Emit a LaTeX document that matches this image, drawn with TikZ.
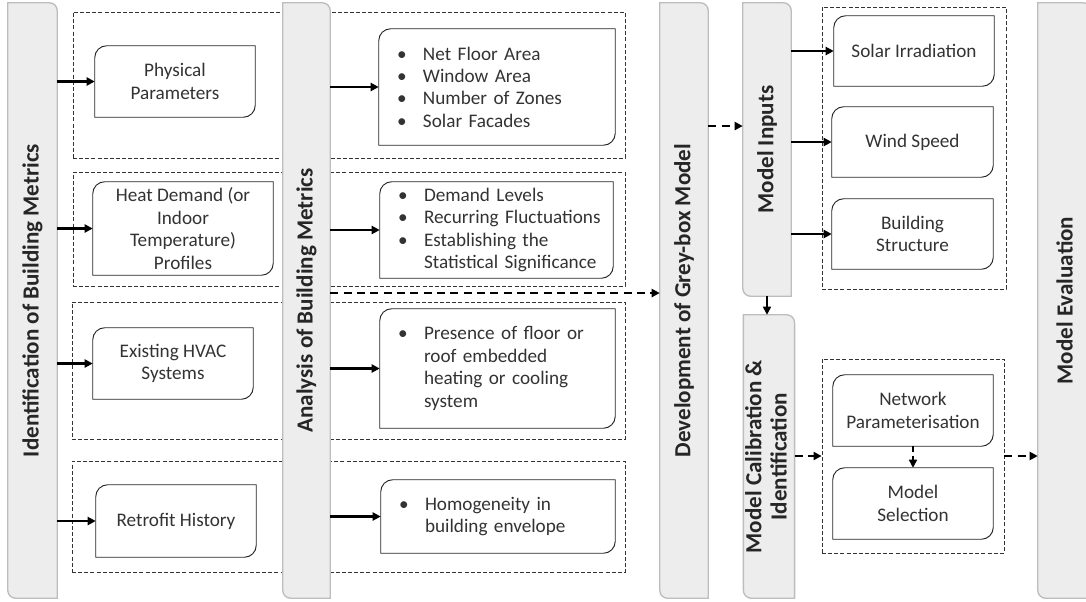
\documentclass[tikz,border=0pt]{standalone}
\usepackage{fontspec}
\setmainfont{Carlito}
\usetikzlibrary{arrows.meta, positioning, backgrounds}
\definecolor{barfill}{HTML}{EDEDED}
\definecolor{barrim}{HTML}{BDBDBD}
\definecolor{inkgray}{HTML}{333333}
\newcommand{\boxfont}{\fontsize{14.4}{16.8}\selectfont}
\newcommand{\barfont}{\fontsize{17.3}{19}\selectfont\bfseries}
\newcommand{\bul}[1]{\mbox{\makebox[19.5pt][l]{\textbullet}#1}}
\newcommand{\cont}[1]{\mbox{\hspace*{19.5pt}#1}}
\newcommand{\barshape}[1]{\draw[fill=barfill, draw=barrim, line width=1pt] (#1.north) [rounded corners=6pt] -- (#1.north east) -- (#1.east) [sharp corners] -- (#1.south east) -- (#1.south) [rounded corners=6pt] -- (#1.south west) -- (#1.west) [sharp corners] -- (#1.north west) -- cycle;}
\newcommand{\boxshape}[1]{\draw[black!85, line width=0.7pt] (#1.west) [rounded corners=9pt] -- (#1.north west) -- (#1.north) [sharp corners] -- (#1.north east) -- (#1.east) [rounded corners=9pt] -- (#1.south east) -- (#1.south) [sharp corners] -- (#1.south west) -- cycle;}
\tikzset{
    stage/.style={inner sep=0pt, font=\barfont, text=black!85},
    group/.style={draw=black!80, dash pattern=on 3pt off 1.6pt, line width=0.6pt, inner sep=0pt},
    leaf/.style={inner sep=0pt, align=center, font=\boxfont, text=inkgray},
    list/.style={inner xsep=13.5pt, inner ysep=0pt, align=left, font=\boxfont, text=inkgray},
    link/.style={-{Triangle[length=6pt,width=6pt]}, line width=1.7pt},
    dlink/.style={-{Triangle[length=6pt,width=6pt]}, line width=1.5pt, dash pattern=on 6pt off 4pt}
}

\begin{document}
\begin{tikzpicture}[x=0.75pt, y=-0.75pt]
    \useasboundingbox (0,0) rectangle (1086,601);
    % Stages
    \node[stage, minimum width=36.75pt, minimum height=446.25pt] (ident) at (32.5,300.5) {\rotatebox{90}{Identification of Building Metrics}};
    \node[stage, minimum width=35.25pt, minimum height=446.25pt] (analysis) at (306.5,300.5) {\rotatebox{90}{Analysis of Building Metrics}};
    \node[stage, minimum width=36pt, minimum height=446.25pt] (develop) at (684,300.5) {\rotatebox{90}{Development of Grey-box Model}};
    \node[stage, minimum width=36pt, minimum height=219.75pt] (inputs) at (767,149.5) {\rotatebox{90}{Model Inputs}};
    \node[stage, minimum width=36pt, minimum height=212.25pt] (calib) at (769,456.5) {\rotatebox{90}{\begin{tabular}{@{}c@{}}Model Calibration \&\\ Identification\end{tabular}}};
    \node[stage, minimum width=39.75pt, minimum height=446.25pt] (eval) at (1064.5,300.5) {\rotatebox{90}{Model Evaluation}};
    % Dashed groups and bar shapes
    \begin{scope}[on background layer]
        \node[group, minimum width=414pt, minimum height=109.5pt] (g1) at (349,85) {};
        \node[group, minimum width=414pt, minimum height=85.5pt] (g2) at (349,229) {};
        \node[group, minimum width=414.75pt, minimum height=102.75pt] (g3) at (348.5,370.5) {};
        \node[group, minimum width=414.75pt, minimum height=83.25pt] (g4) at (348.5,516.5) {};
        \node[group, minimum width=138pt, minimum height=211.5pt] (g5) at (914,148) {};
        \node[group, minimum width=136.5pt, minimum height=145.5pt] (g6) at (913,456) {};
        \foreach \s in {ident, analysis, develop, inputs, calib, eval}
            {\barshape{\s}}
    \end{scope}
    % Building metrics
    \node[leaf, minimum width=120pt, minimum height=53.25pt] (phys) at (175,81.5) {Physical\\Parameters};
    \node[leaf, minimum width=135pt, minimum height=69.75pt] (heat) at (183,228.5) {Heat Demand (or\\Indoor\\Temperature)\\Profiles};
    \node[leaf, minimum width=120pt, minimum height=53.25pt] (hvac) at (173,363.5) {Existing HVAC\\Systems};
    \node[leaf, minimum width=120pt, minimum height=54pt] (retro) at (176,521) {Retrofit History};
    % Analysis outcomes
    \node[list, text width=150pt, minimum width=177pt, minimum height=87pt] (geom) at (497,87) {\bul{Net Floor Area}\\\bul{Window Area}\\\bul{Number of Zones}\\\bul{Solar Facades}};
    \node[list, text width=147.75pt, minimum width=174.75pt, minimum height=72pt] (demand) at (496.5,230) {\bul{Demand Levels}\\\bul{Recurring Fluctuations}\\\bul{Establishing the}\\\cont{Statistical Significance}};
    \node[list, text width=149.25pt, minimum width=176.25pt, minimum height=89.25pt] (embed) at (497.5,368.5) {\bul{Presence of floor or}\\\cont{roof embedded}\\\cont{heating or cooling}\\\cont{system}};
    \node[list, text width=148.5pt, minimum width=175.5pt, minimum height=54.75pt] (homog) at (498,516.5) {\bul{Homogeneity in}\\\cont{building envelope}};
    % Inputs and calibration
    \node[leaf, minimum width=120pt, minimum height=52.5pt] (solar) at (914,51) {Solar Irradiation};
    \node[leaf, minimum width=120.75pt, minimum height=52.5pt] (wind) at (912.5,142) {Wind Speed};
    \node[leaf, minimum width=120.75pt, minimum height=52.5pt] (struct) at (912.5,234) {Building\\Structure};
    \node[leaf, minimum width=120pt, minimum height=53.25pt] (netw) at (913,410.5) {Network\\Parameterisation};
    \node[leaf, minimum width=120pt, minimum height=53.25pt] (select) at (913,503.5) {Model\\Selection};
    \foreach \b in {phys, heat, hvac, retro, geom, demand, embed, homog, solar, wind, struct, netw, select}
        {\boxshape{\b}}
    % Solid links
    \foreach \b in {phys, heat, hvac, retro}
        \draw[link] (ident.east |- \b.west) -- (\b.west);
    \foreach \b in {geom, demand, embed, homog}
        \draw[link] (analysis.east |- \b.west) -- (\b.west);
    \foreach \b in {solar, wind, struct}
        \draw[link] (inputs.east |- \b.west) -- (\b.west);
    \draw[link, line width=1.2pt] (inputs.south) -- (inputs.south |- calib.north);
    % Dashed links
    \coordinate (toDev) at ([yshift=5.6pt]analysis.east);
    \coordinate (toIn) at ([yshift=17.6pt]inputs.west);
    \draw[dlink] (toDev) -- (toDev -| develop.west);
    \draw[dlink] (develop.east |- toIn) -- (toIn);
    \draw[dlink] (calib.east |- g6.west) -- (g6.west);
    \draw[dlink] (g6.east) -- (g6.east -| eval.west);
    \draw[dlink, line width=1.1pt, dash pattern=on 4pt off 3pt] (netw.south) -- (select.north);
\end{tikzpicture}
\end{document}
